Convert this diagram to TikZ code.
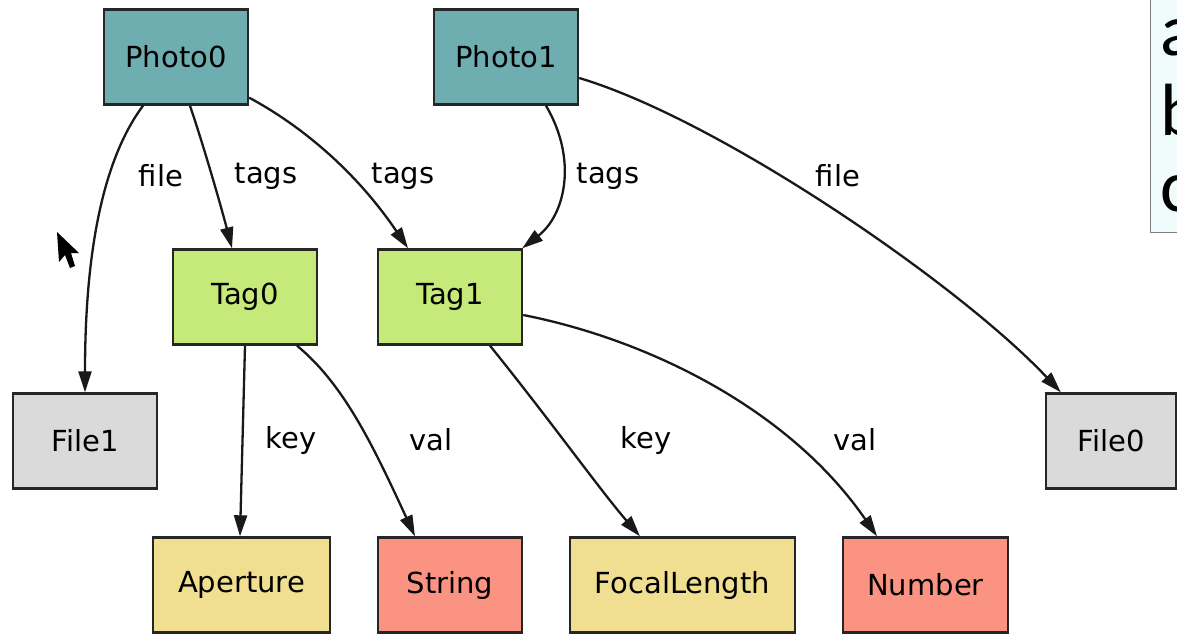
\documentclass[tikz,border=0pt]{standalone}
\usepackage{fontspec}
\setmainfont{DejaVu Sans}
\newfontfamily\notefont{Carlito}
\usetikzlibrary{arrows.meta,calc}
\definecolor{photocol}{HTML}{6EADB0}
\definecolor{tagcol}{HTML}{C6EA7A}
\definecolor{filecol}{HTML}{DADADA}
\definecolor{keycol}{HTML}{F0DF90}
\definecolor{valcol}{HTML}{FA9382}
\definecolor{notecol}{HTML}{EFFCFB}
\tikzset{
  box/.style={draw=black!85, line width=2.4pt, rectangle, minimum width=144pt,
    minimum height=95pt, inner sep=0pt, font=\fontsize{29}{32}\selectfont},
  photo/.style={box, fill=photocol},
  tagbox/.style={box, fill=tagcol},
  filebox/.style={box, fill=filecol},
  keybox/.style={box, fill=keycol},
  valbox/.style={box, fill=valcol},
  lbl/.style={font=\fontsize{29}{32}\selectfont, inner sep=0pt},
  edge/.style={draw=black!90, line width=2.3pt, -{Triangle[length=21pt,width=13pt]}},
}
\begin{document}
\begin{tikzpicture}[x=1pt, y=-1pt]
\useasboundingbox (0,0) rectangle (1177,635);
\fill[white] (0,0) rectangle (1177,635);

% note panel at the right edge
\node[draw=black!50, line width=1.2pt, fill=notecol, rectangle, minimum width=60pt,
  minimum height=260pt, anchor=south west, inner sep=0pt] (note) at (1150,233) {};
\node[anchor=base west, inner sep=0pt, font=\notefont\fontsize{74}{78}\selectfont] (na) at (1160,55) {a};
\node[anchor=base west, inner sep=0pt, font=\notefont\fontsize{74}{78}\selectfont] (nb) at (1160,135) {b};
\node[anchor=base west, inner sep=0pt, font=\notefont\fontsize{74}{78}\selectfont] (nc) at (1160,211) {c};

% nodes
\node[photo] (p0) at (176,57) {Photo0};
\node[photo] (p1) at (506,57) {Photo1};
\node[tagbox] (t0) at (245,297) {Tag0};
\node[tagbox] (t1) at (450,297) {Tag1};
\node[filebox] (f1) at (85,441) {File1};
\node[filebox, minimum width=130pt] (f0) at (1111,441) {File0};
\node[keybox, minimum width=177pt] (ap) at (241.5,585) {Aperture};
\node[valbox] (st) at (450,585) {String};
\node[keybox, minimum width=225pt] (fl) at (682.5,585) {FocalLength};
\node[valbox, minimum width=165pt] (nu) at (925.5,585) {Number};

% connectors
\draw[edge] ([xshift=-33pt]p0.south) .. controls (110,150) and (85,230) .. (f1.north);
\draw[edge] ([xshift=14pt]p0.south) .. controls (205,150) and (222,210) .. ([xshift=-13pt]t0.north);
\draw[edge] ([yshift=8pt]p0.south east) .. controls (300,125) and (355,170) .. ([xshift=-42pt]t1.north);
\draw[edge] ([xshift=40pt]p1.south) .. controls (578,160) and (565,215) .. ([xshift=-1pt]t1.north east);
\draw[edge] ([yshift=-21pt]p1.east) .. controls (720,120) and (960,285) .. ([xshift=16pt]f0.north west);
\draw[edge] (t0.south) -- ([xshift=-1.5pt]ap.north);
\draw[edge] ([xshift=52pt]t0.south) .. controls (345,385) and (375,450) .. ([xshift=-35pt]st.north);
\draw[edge] ([xshift=40pt]t1.south) .. controls (550,420) and (600,490) .. ([xshift=-42.5pt]fl.north);
\draw[edge] ([yshift=-18pt]t1.east) .. controls (650,340) and (790,410) .. ([xshift=-48.5pt]nu.north);

% connector labels
\node[lbl] (l1) at (161,176) {file};
\node[lbl] (l2) at (266,176) {tags};
\node[lbl] (l3) at (403,176) {tags};
\node[lbl] (l4) at (608,176) {tags};
\node[lbl] (l5) at (838,176) {file};
\node[lbl] (l6) at (291,440) {key};
\node[lbl] (l7) at (431,440) {val};
\node[lbl] (l8) at (646,440) {key};
\node[lbl] (l9) at (855,440) {val};

% mouse pointer
\fill[black] (57,232) -- (59,262) -- (65,255) -- (70,268) -- (75,266) -- (71,253) -- (79,253) -- cycle;
\end{tikzpicture}
\end{document}
